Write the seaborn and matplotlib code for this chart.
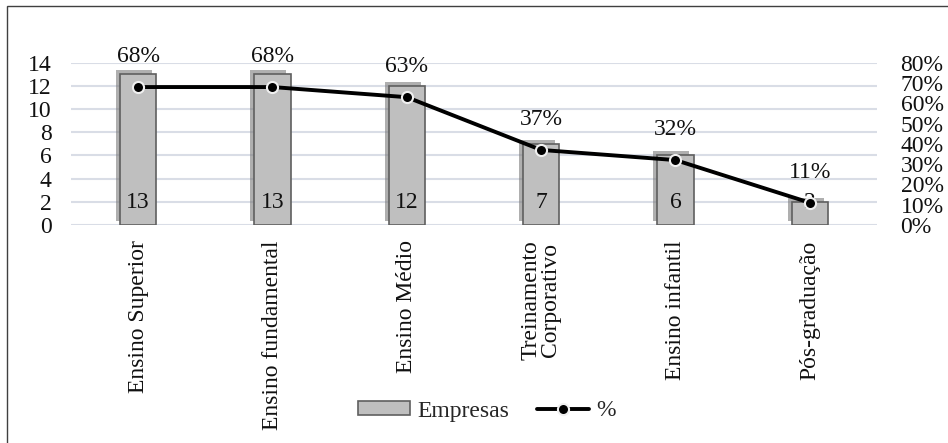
import matplotlib
matplotlib.use("Agg")
import matplotlib.pyplot as plt
import matplotlib.patheffects as pe
from matplotlib.patches import Patch, Rectangle
from matplotlib.lines import Line2D
from matplotlib.ticker import PercentFormatter, MultipleLocator
import seaborn as sns
import pandas as pd

categorias = ["Ensino Superior", "Ensino fundamental", "Ensino Médio",
              "Treinamento\nCorporativo", "Ensino infantil", "Pós-graduação"]
empresas = [13, 13, 12, 7, 6, 2]
percentual = [0.68, 0.68, 0.63, 0.37, 0.32, 0.11]
rotulos_pct = ["68%", "68%", "63%", "37%", "32%", "11%"]

df = pd.DataFrame({"categoria": categorias, "empresas": empresas, "pct": percentual})

sns.set_theme(style="white")
plt.rcParams["font.family"] = ["Liberation Serif", "DejaVu Serif"]
FS = 17

fig = plt.figure(figsize=(9.48, 4.43), dpi=100)
ax = fig.add_axes([71 / 948, 1 - 225 / 443, (877 - 71) / 948, (225 - 62.7) / 443])

sns.barplot(data=df, x="categoria", y="empresas", ax=ax, color="#bfbfbf",
            saturation=1, width=0.27, edgecolor="#5f5f5f", linewidth=1.2, zorder=3)
for bar in ax.patches:
    bar.set_path_effects([pe.SimplePatchShadow(offset=(-3, 3), shadow_rgbFace="#7a7a7a", alpha=0.6),
                          pe.Normal()])

for i, v in enumerate(empresas):
    ax.annotate(str(v), (i, 0), xytext=(0, 16), textcoords="offset points",
                ha="center", va="center", fontsize=FS, color="#111111", zorder=5)

ax.set_ylim(0, 14)
ax.set_xlim(-0.5, len(categorias) - 0.5)
ax.yaxis.set_major_locator(MultipleLocator(2))
ax.grid(axis="y", color="#d9dde6", linewidth=1.5, zorder=0)
ax.set_axisbelow(True)
ax.set_xlabel("")
ax.set_ylabel("")
ax.tick_params(axis="both", length=0, labelsize=FS, colors="#111111")
ax.tick_params(axis="y", pad=14)
ax.tick_params(axis="x", pad=11)
for lab in ax.get_xticklabels():
    lab.set_rotation(90)
    lab.set_va("top")
    lab.set_ha("center")
    lab.set_multialignment("center")
    lab.set_linespacing(0.9)
for s in ax.spines.values():
    s.set_visible(False)

ax2 = ax.twinx()
sns.pointplot(data=df, x="categoria", y="pct", ax=ax2, color="black",
              markers="o", markersize=8, linewidth=2.8,
              markeredgecolor="#f0f0f0", markeredgewidth=1.5, errorbar=None)
ax2.set_ylim(0, 0.8)
ax2.set_xlim(-0.5, len(categorias) - 0.5)
ax2.yaxis.set_major_locator(MultipleLocator(0.1))
ax2.yaxis.set_major_formatter(PercentFormatter(1, decimals=0))
ax2.tick_params(axis="y", length=0, labelsize=FS, colors="#111111", pad=17)
ax2.set_ylabel("")
ax2.set_xlabel("")
ax2.grid(False)
for s in ax2.spines.values():
    s.set_visible(False)
for i, (p, t) in enumerate(zip(percentual, rotulos_pct)):
    ax2.annotate(t, (i, p), xytext=(0, 22), textcoords="offset points",
                 ha="center", va="center", fontsize=FS, color="#111111")

handles = [
    Patch(facecolor="#bfbfbf", edgecolor="#5f5f5f", linewidth=1.2, label="Empresas"),
    Line2D([], [], color="black", linewidth=2.8, marker="o", markersize=8,
           markeredgecolor="#f0f0f0", markeredgewidth=1.5, label="%"),
]
fig.legend(handles=handles, loc="center", bbox_to_anchor=(487 / 948, 1 - 411 / 443), ncol=2,
           frameon=False, fontsize=FS, handlelength=2.2, handleheight=0.55,
           columnspacing=1.2, handletextpad=0.3)

# moldura externa
fig.add_artist(Rectangle((7 / 948, -0.05), 1.2, 1 - 5.5 / 443 + 0.05, transform=fig.transFigure,
                         fill=False, edgecolor="#404040", linewidth=1.0, clip_on=False))

fig.savefig("out.png", dpi=100)
